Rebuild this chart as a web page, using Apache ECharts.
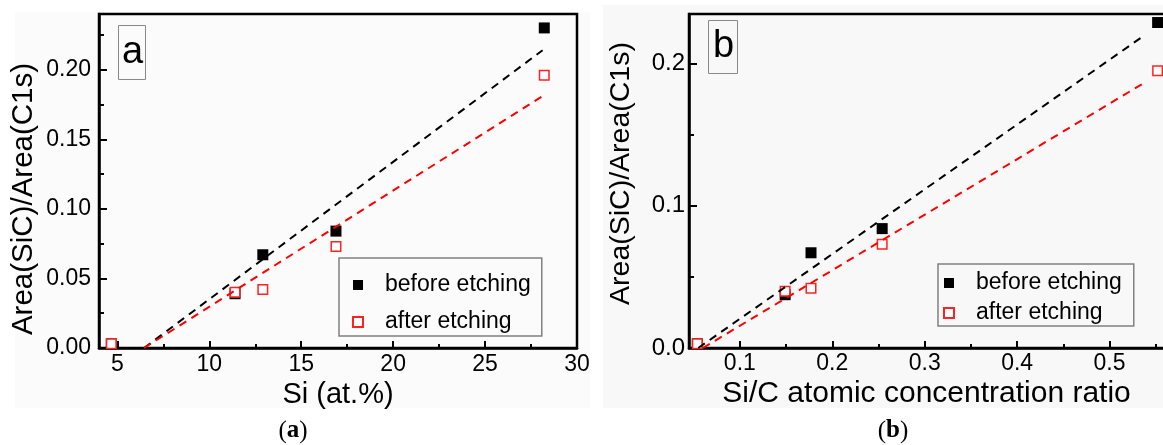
<!DOCTYPE html>
<html>
<head>
<meta charset="utf-8">
<script src="https://cdn.jsdelivr.net/npm/echarts@6/dist/echarts.min.js"></script>
<style>
html, body { margin: 0; padding: 0; background: #fff; }
#main { width: 1163px; height: 445px; }
</style>
</head>
<body>
<div id="main"></div>
<script>
// panel (a): Si content
var siA = [4.67, 11.40, 12.91, 16.89, 28.22];
var beforeA = [0.003, 0.039, 0.067, 0.084, 0.230];
var afterA = [0.003, 0.040, 0.042, 0.073, 0.196];
var fitXA = [6.45, 28.13];
var fitBeforeA = [0, 0.214];
var fitAfterA = [0, 0.181];

// panel (b): Si/C ratio
var ratioB = [0.054, 0.149, 0.177, 0.254, 0.552];
var beforeB = [0.003, 0.0375, 0.067, 0.084, 0.229];
var afterB = [0.003, 0.040, 0.042, 0.073, 0.195];
var fitXBeforeB = [0.055, 0.537];
var fitXAfterB = [0.060, 0.537];
var fitBeforeB = [0, 0.2197];
var fitAfterB = [0, 0.1864];

// ticks
var ticksXA = [5, 10, 15, 20, 25, 30];
var minorXA = [7.5, 12.5, 17.5, 22.5, 27.5];
var ticksYA = [0, 0.05, 0.10, 0.15, 0.20];
var minorYA = [0.025, 0.075, 0.125, 0.175, 0.225];
var ticksXB = [0.1, 0.2, 0.3, 0.4, 0.5];
var minorXB = [0.15, 0.25, 0.35, 0.45, 0.55];
var ticksYB = [0, 0.1, 0.2];
var minorYB = [0.05, 0.15];

var FONT = 'Liberation Sans';
var RED = '#f22';

function zip(xs, ys) {
    var out = [];
    for (var i = 0; i < xs.length; i++) out.push([xs[i], ys[i]]);
    return out;
}

// main axis (line, labels, major ticks) + ghost axis for the minor ticks
function axisPair(dim, grid, min, max, major, minor, digits, font, margin, majorLen, minorLen) {
    var pos = dim === 'x' ? 'bottom' : 'left';
    var main = {
        type: 'value', gridIndex: grid, position: pos, min: min, max: max,
        axisLine: { show: true, onZero: false, lineStyle: { color: '#000', width: 2.5 } },
        axisTick: { show: true, inside: true, length: majorLen, customValues: major, lineStyle: { color: '#000', width: 2 } },
        axisLabel: {
            show: true, customValues: major, margin: margin, color: '#000', fontFamily: FONT, fontSize: font,
            formatter: function (v) { return digits < 0 ? String(v) : Number(v).toFixed(digits); }
        },
        splitLine: { show: false },
        nameMoveOverlap: false
    };
    var ghost = {
        type: 'value', gridIndex: grid, position: pos, min: min, max: max,
        axisLine: { show: false, onZero: false },
        axisTick: { show: true, inside: true, length: minorLen, customValues: minor, lineStyle: { color: '#000', width: 2 } },
        axisLabel: { show: false },
        splitLine: { show: false }
    };
    return [main, ghost];
}

var xa = axisPair('x', 0, 4, 30, ticksXA, minorXA, -1, 23, 5, 7, 4);
var ya = axisPair('y', 0, 0, 0.24, ticksYA, minorYA, 2, 23, 8, 8, 5);
var xb = axisPair('x', 1, 0.045, 0.6, ticksXB, minorXB, 1, 23, 4, 7, 4);
var yb = axisPair('y', 1, 0, 0.235, ticksYB, minorYB, 1, 24, 4, 8, 5);

xa[0].name = 'Si (at.%)';
xa[0].nameLocation = 'middle';
xa[0].nameGap = 32;
xa[0].nameTextStyle = { fontFamily: FONT, fontSize: 29, color: '#000' };

ya[0].name = 'Area(SiC)/Area(C1s)';
ya[0].nameLocation = 'middle';
ya[0].nameGap = 60;
ya[0].nameTextStyle = { fontFamily: FONT, fontSize: 29.5, color: '#000', padding: [0, 36, 0, 0] };

xb[0].name = 'Si/C atomic concentration ratio';
xb[0].nameLocation = 'middle';
xb[0].nameGap = 31;
xb[0].nameTextStyle = { fontFamily: FONT, fontSize: 30, color: '#000', padding: [0, 38, 0, 0] };

yb[0].name = 'Area(SiC)/Area(C1s)';
yb[0].nameLocation = 'middle';
yb[0].nameGap = 53;
yb[0].nameTextStyle = { fontFamily: FONT, fontSize: 28.5, color: '#000', padding: [0, 0, 0, 15] };

function scatter(name, xi, data, filled) {
    return {
        name: name, type: 'scatter', xAxisIndex: xi, yAxisIndex: xi,
        symbol: 'rect', symbolSize: filled ? 11 : 9.5,
        itemStyle: filled ? { color: '#000', opacity: 1 } : { color: '#fff', borderColor: RED, borderWidth: 1.5, opacity: 1 },
        data: data, z: filled ? 3 : 4, silent: true
    };
}

function fit(xi, data, color) {
    return {
        type: 'line', xAxisIndex: xi, yAxisIndex: xi, symbol: 'none', silent: true,
        lineStyle: { color: color, width: 2, type: [8, 6] },
        data: data, z: 5
    };
}

function legend(left, top, padding, gap) {
    return {
        data: ['before etching', 'after etching'], orient: 'vertical',
        left: left, top: top, padding: padding, itemGap: gap,
        itemWidth: 44, itemHeight: 10, icon: 'path://M0,0H10V10H0Z',
        borderColor: '#808080', borderWidth: 1.5, selectedMode: false,
        textStyle: { fontFamily: FONT, fontSize: 23, color: '#000', lineHeight: 26 }
    };
}

function panelTitle(text, left, top, padding) {
    return {
        text: text, left: left, top: top, padding: padding,
        borderColor: '#888', borderWidth: 1,
        textStyle: { fontFamily: FONT, fontSize: 38, fontWeight: 'normal', color: '#000', lineHeight: 39 }
    };
}

function caption(letter, x) {
    return {
        type: 'text', x: x, y: 431, z: 10,
        style: {
            text: '{p|(}{b|' + letter + '}{p|)}',
            align: 'center', verticalAlign: 'middle',
            rich: {
                p: { fontFamily: 'Liberation Serif', fontSize: 25, fill: '#000', color: '#000' },
                b: { fontFamily: 'Liberation Serif', fontSize: 25, fontWeight: 'bold', fill: '#000', color: '#000' }
            }
        }
    };
}

var myChart = echarts.init(document.getElementById('main'));

var option = {
    animation: false,
    backgroundColor: '#fff',
    title: [
        panelTitle('a', 118, 25, [8, 3, 8, 4]),
        panelTitle('b', 708, 20, [7, 4, 8, 5])
    ],
    legend: [
        legend(339, 258, [14, 11, 1, 13], 11),
        legend(938, 264, [6, 12, 0, 5], 4)
    ],
    grid: [
        { left: 99, top: 14, width: 478, height: 334, show: true, borderColor: '#000', borderWidth: 2.5, backgroundColor: 'transparent', containLabel: false, outerBoundsMode: 'none' },
        { left: 689, top: 14, width: 513, height: 334, show: true, borderColor: '#000', borderWidth: 2.5, backgroundColor: 'transparent', containLabel: false, outerBoundsMode: 'none' }
    ],
    xAxis: [xa[0], xa[1], xb[0], xb[1]],
    yAxis: [ya[0], ya[1], yb[0], yb[1]],
    graphic: [
        { type: 'rect', z: -10, shape: { x: 15, y: 12, width: 575, height: 396 }, style: { fill: '#fbfbfb' } },
        { type: 'rect', z: -10, shape: { x: 603, y: 5, width: 560, height: 403 }, style: { fill: '#f8f8f8' } },
        caption('a', 293),
        caption('b', 893)
    ],
    series: [
        scatter('before etching', 0, zip(siA, beforeA), true),
        scatter('after etching', 0, zip(siA, afterA), false),
        fit(0, zip(fitXA, fitBeforeA), '#000'),
        fit(0, zip(fitXA, fitAfterA), '#f00'),
        scatter('before etching', 2, zip(ratioB, beforeB), true),
        scatter('after etching', 2, zip(ratioB, afterB), false),
        fit(2, zip(fitXBeforeB, fitBeforeB), '#000'),
        fit(2, zip(fitXAfterB, fitAfterB), '#f00')
    ]
};

myChart.setOption(option);
</script>
</body>
</html>
